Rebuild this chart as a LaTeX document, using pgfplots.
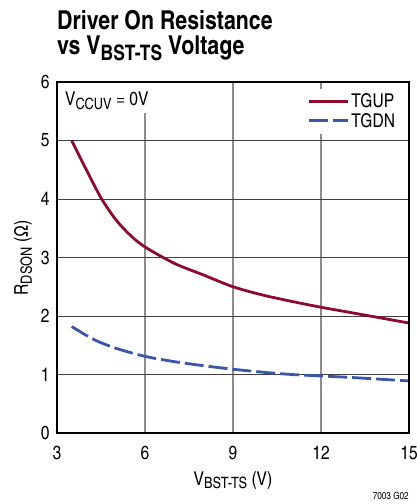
\documentclass[border=0pt]{standalone}
\usepackage{pgfplots}
\pgfplotsset{compat=1.18}
\usepackage{fontspec}
\setmainfont{TeX Gyre Heros Cn}
\definecolor{upred}{HTML}{8E0A2C}
\definecolor{dnblue}{HTML}{3A56A8}
\newcommand\sub[1]{\raisebox{-0.4ex}{\scalebox{0.82}{#1}}}
\begin{document}
\begin{tikzpicture}
\path[use as bounding box] (-57pt,-71pt) rectangle (360pt,433pt);
\begin{axis}[
  at={(0pt,0pt)}, anchor=south west,
  scale only axis, width=352pt, height=351pt,
  xmin=3, xmax=15, ymin=0, ymax=6,
  xtick={3,6,9,12,15}, ytick={0,1,2,3,4,5,6},
  major tick length=0pt,
  grid=major,
  x grid style={black!45, line width=1.2pt},
  y grid style={black!75, line width=0.8pt},
  axis line style={black, line width=1.2pt},
  tick label style={font=\fontsize{19}{21}\selectfont},
  /pgf/number format/assume math mode=true,
  xticklabel style={yshift=-10pt},
  yticklabel style={xshift=-4pt},
  legend style={draw=none, fill=white, at={(0.975,0.982)}, anchor=north east,
    font=\fontsize{19}{21}\selectfont, row sep=0pt, inner sep=3pt},
  legend cell align=left,
  legend image code/.code={\draw[#1] (0pt,0pt) -- (39pt,0pt);},
]
\fill[white] (axis cs:3.1,5.47) rectangle (axis cs:7.2,5.98);
\addplot[upred, line width=2.8pt, smooth, tension=0.5] coordinates {
 (3.5,5.0) (4.0,4.5) (4.5,4.02) (5.0,3.65) (5.5,3.38) (6,3.18) (7,2.9)
 (8,2.7) (9,2.5) (10,2.36) (11,2.25) (12,2.15) (13,2.06) (14,1.97) (15,1.88)};
\addlegendentry{TGUP}
\addplot[dnblue, line width=2.8pt, smooth, tension=0.5, dash pattern=on 19pt off 5pt] coordinates {
 (3.5,1.82) (4.25,1.60) (5,1.45) (6,1.31) (7,1.22) (8,1.15) (9,1.09)
 (10,1.04) (11,1.0) (12,0.975) (13,0.95) (14,0.92) (15,0.89)};
\addlegendentry{TGDN}
\node[anchor=base west, inner sep=0pt, font=\fontsize{19}{21}\selectfont] at (axis cs:3.27,5.6) {V\sub{CCUV} = 0V};
\end{axis}
\draw[black, line width=1.2pt] (current axis.south west) rectangle (current axis.north east);
\node[anchor=base, font=\fontsize{19}{21}\selectfont] at (176pt,-52pt) {V\sub{BST-TS} (V)};
\node[anchor=base, rotate=90, font=\fontsize{19}{21}\selectfont] at (-29pt,175pt) {R\sub{DSON} (Ω)};
\node[anchor=base east, inner sep=0pt, font=\fontsize{10}{11}\selectfont] at (352pt,-66pt) {7003 G02};
\node[anchor=base west, inner sep=0pt, font=\fontsize{26}{28}\selectfont\bfseries] at (0pt,403pt) {Driver On Resistance};
\node[anchor=base west, inner sep=0pt, font=\fontsize{26}{28}\selectfont\bfseries] at (0pt,378pt) {vs V\sub{BST-TS} Voltage};
\end{tikzpicture}
\end{document}
